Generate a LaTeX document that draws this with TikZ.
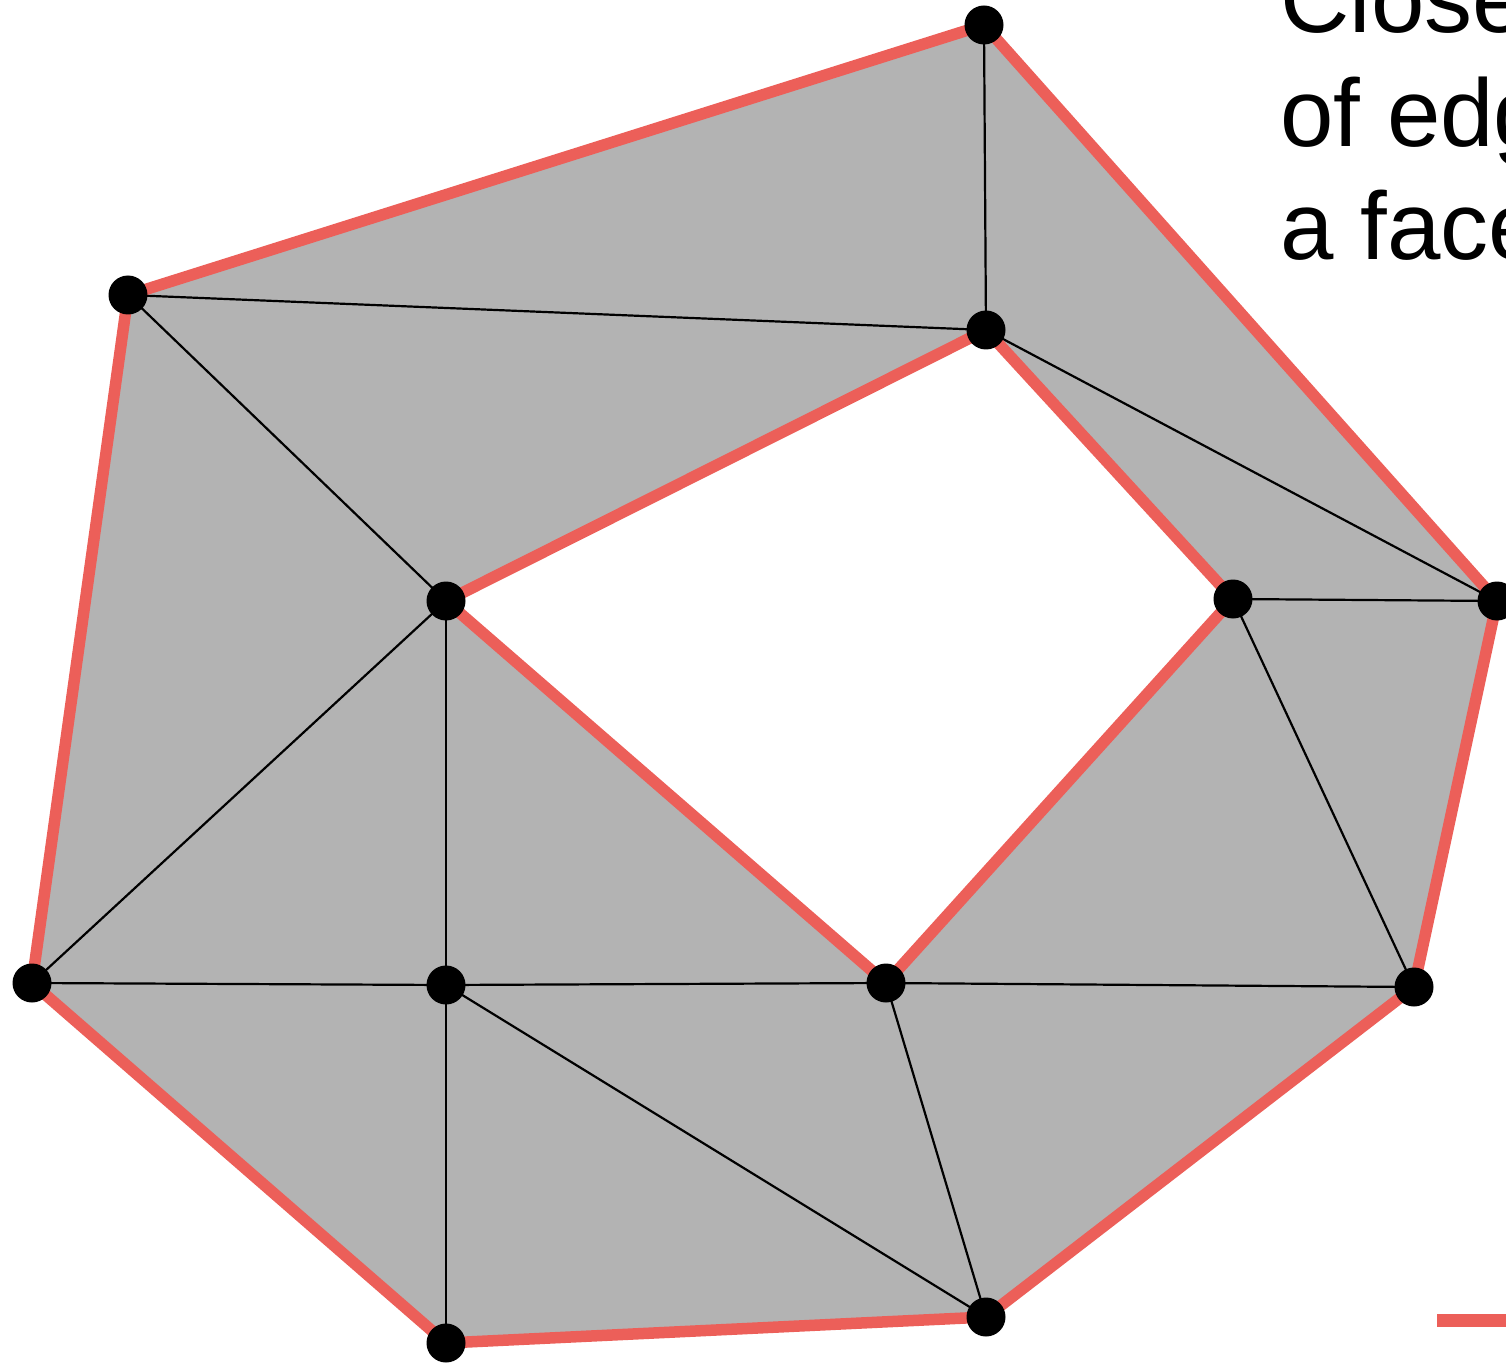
\documentclass[tikz,border=0pt]{standalone}
\usepackage{fontspec}
\setmainfont{Liberation Sans}
\definecolor{redline}{HTML}{EC5F59}
\definecolor{facegray}{HTML}{B3B3B3}
\tikzset{
  vtx/.style={circle,fill=black,inner sep=0pt,minimum size=19.5pt},
  bound/.style={draw=redline,line width=5.75pt,line join=miter},
  inner edge/.style={draw=black,line width=1.1pt},
  caption/.style={anchor=base west,inner sep=0pt,font=\fontsize{48pt}{57pt}\selectfont}
}
\begin{document}
\begin{tikzpicture}[x=0.5pt,y=-0.5pt]
\useasboundingbox (0,0) rectangle (1506,1364);
\clip (0,0) rectangle (1506,1364);
% coordinates
\coordinate (A) at (984,25);
\coordinate (B) at (128,295);
\coordinate (C) at (986,330);
\coordinate (D) at (446,601);
\coordinate (E) at (1233,599);
\coordinate (F) at (1497,601);
\coordinate (G) at (32,983);
\coordinate (H) at (446,985);
\coordinate (I) at (886,983);
\coordinate (J) at (1414,987);
\coordinate (K) at (446,1343);
\coordinate (L) at (986,1317);
% gray face with hole
\fill[facegray,even odd rule] (A) -- (F) -- (J) -- (L) -- (K) -- (G) -- (B) -- cycle
  (C) -- (E) -- (I) -- (D) -- cycle;
% thin edges
\draw[inner edge] (A) -- (C);
\draw[inner edge] (B) -- (C);
\draw[inner edge] (B) -- (D);
\draw[inner edge] (D) -- (G);
\draw[inner edge] (D) -- (H);
\draw[inner edge] (G) -- (H);
\draw[inner edge] (H) -- (I);
\draw[inner edge] (I) -- (J);
\draw[inner edge] (H) -- (K);
\draw[inner edge] (H) -- (L);
\draw[inner edge] (I) -- (L);
\draw[inner edge] (C) -- (F);
\draw[inner edge] (E) -- (F);
\draw[inner edge] (E) -- (J);
% red boundaries
\draw[bound] (A) -- (F) -- (J) -- (L) -- (K) -- (G) -- (B) -- cycle;
\draw[bound] (C) -- (E) -- (I) -- (D) -- cycle;
% vertices
\foreach \v in {A,B,C,D,E,F,G,H,I,J,K,L}
  \node[vtx] (n\v) at (\v) {};
% caption text
\node[caption] (t1) at (1280,33) {Close};
\node[caption] (t2) at (1280,147) {of edg};
\node[caption] (t3) at (1280,260) {a face};
% legend line
\coordinate (leg1) at (1437,1320);
\coordinate (leg2) at (1520,1320);
\draw[draw=redline,line width=6.5pt] (leg1) -- (leg2);
\end{tikzpicture}
\end{document}
